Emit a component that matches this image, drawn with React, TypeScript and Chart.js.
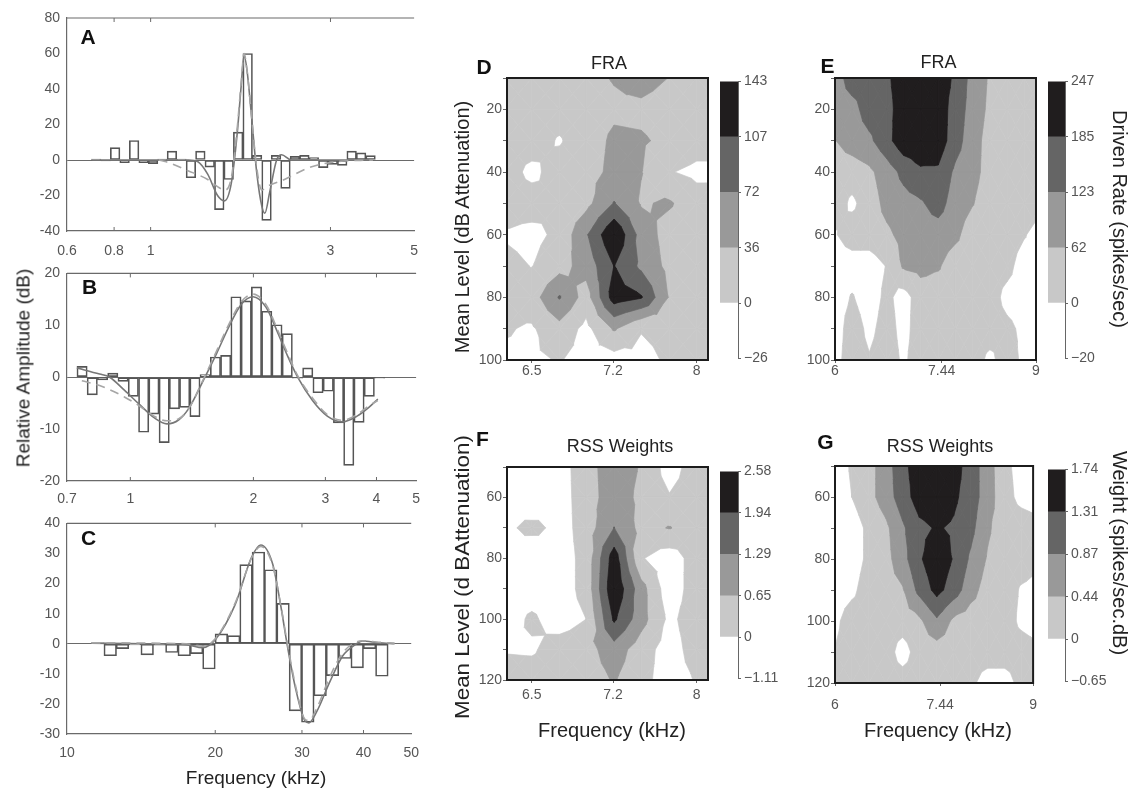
import React, { useEffect, useRef } from "react";
import { Chart, registerables } from "chart.js";

Chart.register(...registerables);

const FONT = '"Liberation Sans", Arial, Helvetica, sans-serif';
Chart.defaults.font.family = FONT;

// ---------------- Panel A ----------------
const A_BAR_FREQ = [0.717, 0.76, 0.805, 0.853, 0.904, 0.958, 1.015, 1.075, 1.139, 1.207, 1.279, 1.355, 1.435, 1.521, 1.611, 1.707, 1.809, 1.916, 2.03, 2.151, 2.279, 2.414, 2.558, 2.71, 2.871, 3.042, 3.223, 3.414, 3.617, 3.832];
const A_BAR_VALUE = [0.5, -0.5, 7, -1.5, 11, -1.5, -2, 0.5, 5, 0.5, -10, 5, -4, -28, -11, 15.7, 60, 2.6, -34, 2.6, -16, 2, 2.6, 1.4, -4.3, -2.5, -3, 5, 4, 2.5];
const A_SOLID_FREQ = [0.7, 0.99, 1.26, 1.335, 1.417, 1.505, 1.57, 1.637, 1.697, 1.739, 1.77, 1.803, 1.846, 1.914, 1.972, 2.009, 2.07, 2.159, 2.225, 2.362, 3.89];
const A_SOLID_VALUE = [0, 0, 0, -1, -8, -20, -23, -13, 15, 42, 59, 50, 28, -8, -26, -30, -18, 0, 3, 0, 0];
const A_DASH_FREQ = [1.05, 1.1, 1.256, 1.417, 1.505, 1.57, 1.637, 1.697, 1.739, 1.77, 1.803, 1.846, 1.914, 1.972, 2.033, 2.265, 2.617, 3.096, 3.89];
const A_DASH_VALUE = [0, -1, -6, -11, -15, -17, -10, 18, 44, 60, 50, 28, -5, -17, -15, -11, -4.5, -1, 0];
const A_X_TICKS = [0.6, 0.8, 1, 3, 5];

// ---------------- Panel B ----------------
const B_BAR_FREQ = [0.762, 0.807, 0.855, 0.906, 0.96, 1.017, 1.078, 1.142, 1.21, 1.282, 1.358, 1.439, 1.524, 1.615, 1.711, 1.813, 1.921, 2.035, 2.156, 2.284, 2.42, 2.564, 2.716, 2.878, 3.049, 3.23, 3.422, 3.626, 3.841, 4.07];
const B_BAR_VALUE = [2.1, -3.4, -0.5, 0.8, -0.8, -3.7, -10.6, -7.1, -12.6, -6.1, -5.8, -7.6, 0.5, 3.9, 4.2, 15.5, 14.7, 17.4, 12.7, 10.1, 8.4, -0.2, 1.8, -3.0, -2.7, -8.8, -17, -8.7, -3.7, -0.2];
const B_SOLID_FREQ = [0.74, 0.841, 0.89, 0.967, 1.051, 1.143, 1.229, 1.314, 1.39, 1.511, 1.624, 1.737, 1.867, 1.996, 2.146, 2.296, 2.427, 2.566, 2.79, 3.032, 3.298, 3.585, 3.832, 4.03];
const B_SOLID_VALUE = [1.8, 0.6, 0, -2.5, -5.2, -7.8, -9.0, -8.2, -6.0, -0.5, 4.5, 9.5, 14, 15.5, 13.5, 8.5, 4, 0, -4.5, -7.5, -8.6, -7.5, -5.8, -4.2];
const B_DASH_FREQ = [0.761, 0.841, 0.967, 1.051, 1.143, 1.229, 1.314, 1.39, 1.511, 1.624, 1.737, 1.867, 1.996, 2.146, 2.296, 2.427, 2.566, 2.79, 3.032, 3.298, 3.585, 3.832, 4.03];
const B_DASH_VALUE = [-0.7, -1.6, -3.8, -5.5, -7.5, -8.4, -8.0, -6.0, -0.3, 5, 10, 14.5, 16, 14, 9, 4.5, 0.3, -4, -7.2, -8.3, -7.2, -5.5, -4.5];
const B_X_TICKS = [0.7, 1, 2, 3, 4, 5];

// ---------------- Panel C ----------------
const C_BAR_FREQ = [11.55, 12.24, 12.96, 13.73, 14.55, 15.42, 16.33, 17.3, 18.33, 19.42, 20.58, 21.8, 23.1, 24.47, 25.92, 27.46, 29.1, 30.83, 32.66, 34.6, 36.66, 38.84, 41.15, 43.59];
const C_BAR_VALUE = [0.3, -4.0, -1.6, -0.4, -3.7, -0.5, -2.9, -4.0, -3.3, -8.4, 3.3, 2.7, 26.3, 30.5, 24.6, 13.4, -22.3, -26.1, -17.3, -10.6, -4.9, -8.0, -1.6, -10.8];
const C_SOLID_FREQ = [11.21, 14.55, 17.47, 18.86, 20.04, 21.95, 23.7, 24.74, 26.16, 27.19, 28.03, 29.12, 30.47, 31.0, 32.14, 34.17, 36.31, 38.58, 39.78, 42.95, 46.27];
const C_SOLID_VALUE = [0.2, 0, -0.3, -1.3, 1.5, 13, 28.7, 32.8, 26.5, 12.3, -0.8, -14.9, -25.8, -26.3, -22.6, -12.7, -4, -0.2, 0.9, 0.3, 0];
const C_DASH_FREQ = [11.21, 17.47, 18.86, 20.04, 21.95, 23.7, 24.74, 26.16, 27.19, 28.03, 29.12, 30.47, 31.0, 32.14, 34.17, 36.31, 38.58, 39.78, 42.95, 46.27];
const C_DASH_VALUE = [0.3, 0, -0.8, 1.8, 13.5, 28.5, 32.3, 26, 12.5, 0, -14, -25.2, -25.5, -21.5, -11, -3, 0.5, 1.0, 0.5, 0.2];
const C_X_TICKS = [10, 20, 30, 40, 50];

// ---------------- Contour panels ----------------
const BAND_COLORS = ["#ffffff", "#c8c8c8", "#999999", "#656565", "#201d1e"];
const COLORBAR_BANDS = [1, 1, 1, 1, 1];

// D: FRA
const D_FREQ = [6.28, 6.5, 6.73, 6.96, 7.21, 7.46, 7.73, 8.0, 8.28];
const D_LEVEL = [10, 20, 30, 40, 50, 60, 70, 80, 90, 100];
const D_Z = [
  [15, 15, 15, 28, 38, 50, 35, 15, 15],
  [15, 15, 15, 20, 30, 28, 20, 15, 15],
  [15, 15, -3, 20, 42, 40, 28, 15, 15],
  [15, -8, 15, 22, 45, 37, 2, -8, -8],
  [15, 15, 3, 25, 74, 33, 40, 15, 15],
  [-3, -10, 8, 68, 140, 57, 20, 15, 15],
  [10, -1, 23, 50, 108, 65, 25, 15, 15],
  [10, 19, 75, 19, 125, 110, 33, 15, 15],
  [3, -4, 23, -10, 40, 2, 10, 15, 15],
  [-6, -6, 2, -12, -15, -10, 5, 15, 15],
];
const D_THRESHOLDS = [0, 36, 72, 107];
const D_CB_LABELS = ["\u221226", "0", "36", "72", "107", "143"];
const D_X_TICKS = [6.5, 7.2, 8];

// E: FRA
const E_FREQ = [6, 6.21, 6.43, 6.66, 6.89, 7.13, 7.39, 7.65, 7.92, 8.2, 8.49, 8.79, 9.1];
const E_LEVEL = [10, 20, 30, 40, 50, 60, 70, 80, 90, 100];
const E_Z = [
  [92, 154, 154, 175, 216, 230, 216, 175, 100, 55, 31, 31, 31],
  [92, 100, 154, 165, 216, 216, 216, 160, 95, 50, 31, 31, 31],
  [60, 90, 110, 165, 225, 230, 220, 150, 85, 40, 31, 31, 31],
  [31, 31, 50, 92, 140, 175, 175, 110, 80, 40, 31, 31, 31],
  [31, -12, 31, 80, 100, 115, 150, 90, 65, 31, 31, 31, 31],
  [-5, 31, 31, 50, 80, 92, 92, 75, 31, 31, 31, 5, -31],
  [-31, -31, -31, 3, 70, 80, 68, 31, 31, 31, 20, -31, -31],
  [-31, 5, -31, 15, -25, 31, 31, 31, 31, 31, -20, -31, -31],
  [-31, 31, -15, 25, -20, 31, 31, 31, 31, 31, 15, -15, -31],
  [-20, 31, 5, 31, -10, 31, 31, 31, 31, -15, 31, -15, -31],
];
const E_THRESHOLDS = [0, 62, 123, 185];
const E_CB_LABELS = ["\u221220", "0", "62", "123", "185", "247"];
const E_X_TICKS = [6, 7.44, 9];

// F: RSS weights
const F_FREQ = [6.28, 6.5, 6.73, 6.96, 7.21, 7.46, 7.73, 8.0, 8.28];
const F_LEVEL = [50, 60, 70, 80, 90, 100, 110, 120];
const F_Z = [
  [-0.3, -0.3, -0.3, 0.4, 1.0, 0.6, -0.3, 0.35, 0.35],
  [-0.3, -0.9, -0.3, 0.35, 1.0, 0.5, 0.05, 0.35, 0.35],
  [-0.25, 0.3, -0.3, 0.3, 1.3, 0.45, 0.68, 0.35, 0.35],
  [-0.3, -0.9, -0.3, 0.2, 2.3, 0.05, -0.35, 0.3, 0.35],
  [-0.3, -0.3, -0.3, 0.2, 2.5, 0.9, -0.4, 0.35, 0.35],
  [-0.3, 0.1, -0.3, 0.0, 2.05, 0.9, -0.15, 0.35, 0.35],
  [-0.05, -0.08, 0.3, 0.4, 1.0, 0.3, -0.3, 0.3, 0.35],
  [0.3, 0.3, 0.3, 0.35, 0.7, 0.2, -0.3, 0.05, 0.35],
];
const F_THRESHOLDS = [0, 0.65, 1.29, 1.94];
const F_CB_LABELS = ["\u22121.11", "0", "0.65", "1.29", "1.94", "2.58"];

// G: RSS weights
const G_FREQ = [6, 6.21, 6.43, 6.66, 6.89, 7.13, 7.39, 7.65, 7.92, 8.2, 8.49, 8.79, 9.1];
const G_LEVEL = [50, 60, 70, 80, 90, 100, 110, 120];
const G_Z = [
  [-0.22, 0.05, 0.3, 0.65, 1.2, 1.52, 1.6, 1.52, 1.09, 0.65, 0.1, -0.15, -0.22],
  [-0.22, 0.0, 0.3, 0.65, 1.1, 1.52, 1.6, 1.4, 1.09, 0.65, 0.15, -0.12, -0.22],
  [-0.22, -0.22, 0.1, 0.35, 0.8, 1.2, 1.35, 1.25, 1.0, 0.5, 0.22, 0.22, 0.15],
  [-0.22, -0.22, 0.1, 0.3, 0.7, 1.25, 1.6, 1.28, 0.8, 0.4, 0.22, 0.22, 0.22],
  [-0.22, -0.1, 0.22, 0.3, 0.4, 1.0, 1.45, 1.1, 0.6, 0.25, 0.22, -0.05, -0.22],
  [-0.1, 0.22, 0.22, 0.22, 0.22, 0.35, 0.8, 0.35, 0.22, 0.22, 0.22, -0.1, -0.22],
  [0.02, 0.22, 0.22, 0.22, -0.2, 0.22, 0.22, 0.22, 0.22, 0.22, 0.22, 0.22, 0.1],
  [0.22, 0.22, 0.22, 0.22, 0.22, 0.22, 0.22, 0.22, 0.1, -0.2, -0.2, 0.15, 0.22],
];
const G_THRESHOLDS = [0, 0.44, 0.87, 1.31];
const G_CB_LABELS = ["\u22120.65", "0", "0.44", "0.87", "1.31", "1.74"];

// ---------------- helpers ----------------
const TICK_COLOR = "#555";
const FRAME_GREY = "#6a6a6a";

const leftFramePlugin = {
  id: "leftFrame",
  afterDraw(chart: any) {
    const { ctx, chartArea: a, scales } = chart;
    const x = scales.x;
    ctx.save();
    ctx.strokeStyle = FRAME_GREY;
    ctx.lineWidth = 1.2;
    ctx.beginPath();
    ctx.moveTo(a.left, a.top);
    ctx.lineTo(a.right, a.top);
    ctx.stroke();
    ctx.lineWidth = 1;
    for (const t of x.ticks) {
      const px = x.getPixelForValue(t.value);
      if (px <= a.left + 2 || px >= a.right - 2) continue;
      ctx.beginPath();
      ctx.moveTo(px, a.top);
      ctx.lineTo(px, a.top + 4);
      ctx.moveTo(px, a.bottom);
      ctx.lineTo(px, a.bottom - 4);
      ctx.stroke();
    }
    ctx.restore();
  },
};

function pts(f: number[], v: number[]) {
  return f.map((x, i) => ({ x, y: v[i] }));
}

function barPanelConfig(p: any) {
  return {
    type: "bar",
    data: {
      datasets: [
        {
          type: "line",
          data: pts(p.dashF, p.dashV),
          borderColor: "#a6a6a6",
          borderWidth: 1.6,
          borderDash: [9, 6],
          pointRadius: 0,
          cubicInterpolationMode: "monotone",
          order: 0,
        },
        {
          type: "line",
          data: pts(p.solidF, p.solidV),
          borderColor: "#777777",
          borderWidth: 1.6,
          pointRadius: 0,
          cubicInterpolationMode: "monotone",
          order: 0,
        },
        {
          type: "bar",
          data: pts(p.barF, p.barV),
          backgroundColor: "rgba(255,255,255,0)",
          borderColor: "#555",
          borderWidth: 1,
          borderSkipped: false,
          barThickness: p.barPx,
          order: 1,
        },
      ],
    },
    options: {
      responsive: false,
      animation: false,
      devicePixelRatio: 1,
      layout: { padding: { left: 0, top: p.padTop, right: p.padRight, bottom: 0 } },
      plugins: { legend: { display: false }, tooltip: { enabled: false } },
      scales: {
        x: {
          type: "logarithmic",
          min: p.xmin,
          max: p.xmax,
          offset: false,
          afterBuildTicks: (s: any) => {
            s.ticks = p.xticks.map((v: number) => ({ value: v }));
          },
          afterFit: (s: any) => {
            s.height = p.xh;
          },
          ticks: {
            callback: (v: any) => String(v),
            autoSkip: false,
            maxRotation: 0,
            padding: p.xpad,
            color: TICK_COLOR,
            font: { size: 14 },
          },
          grid: { display: false, drawTicks: false, offset: false },
          border: { display: true, color: FRAME_GREY, width: 1.2 },
        },
        y: {
          type: "linear",
          min: p.ymin,
          max: p.ymax,
          ticks: { stepSize: p.ystep, color: TICK_COLOR, font: { size: 14 }, padding: 7 },
          afterFit: (s: any) => {
            s.width = 67;
          },
          grid: {
            drawTicks: false,
            color: (c: any) => (c.tick && c.tick.value === 0 ? "#6a6a6a" : "rgba(0,0,0,0)"),
            lineWidth: 1,
          },
          border: { display: true, color: FRAME_GREY, width: 1.2 },
        },
      },
    },
    plugins: [leftFramePlugin],
  };
}

function clipAbove(poly: number[][], lo: number) {
  const out: number[][] = [];
  for (let i = 0; i < poly.length; i++) {
    const a = poly[i];
    const b = poly[(i + 1) % poly.length];
    const fa = a[2] - lo;
    const fb = b[2] - lo;
    if (fa >= 0) out.push(a);
    if (fa >= 0 !== fb >= 0) {
      const t = fa / (fa - fb);
      out.push([a[0] + (b[0] - a[0]) * t, a[1] + (b[1] - a[1]) * t, lo]);
    }
  }
  return out;
}

function makeContourPlugin(freqs: number[], levels: number[], z: number[][], thresholds: number[]) {
  return {
    id: "contourFill",
    beforeDatasetsDraw(chart: any) {
      const { ctx, chartArea: a, scales } = chart;
      const xs = freqs.map((f) => scales.x.getPixelForValue(f));
      const ys = levels.map((l) => scales.y.getPixelForValue(l));
      ctx.save();
      ctx.beginPath();
      ctx.rect(a.left, a.top, a.right - a.left, a.bottom - a.top);
      ctx.clip();
      ctx.fillStyle = BAND_COLORS[0];
      ctx.fillRect(a.left, a.top, a.right - a.left, a.bottom - a.top);
      ctx.lineJoin = "round";
      for (let k = 0; k < thresholds.length; k++) {
        const lo = thresholds[k];
        ctx.fillStyle = BAND_COLORS[k + 1];
        ctx.strokeStyle = BAND_COLORS[k + 1];
        ctx.lineWidth = 0.7;
        for (let i = 0; i < levels.length - 1; i++) {
          for (let j = 0; j < freqs.length - 1; j++) {
            const p00 = [xs[j], ys[i], z[i][j]];
            const p01 = [xs[j + 1], ys[i], z[i][j + 1]];
            const p11 = [xs[j + 1], ys[i + 1], z[i + 1][j + 1]];
            const p10 = [xs[j], ys[i + 1], z[i + 1][j]];
            const c = [(xs[j] + xs[j + 1]) / 2, (ys[i] + ys[i + 1]) / 2, (p00[2] + p01[2] + p11[2] + p10[2]) / 4];
            const tris = [
              [p00, p01, c],
              [p01, p11, c],
              [p11, p10, c],
              [p10, p00, c],
            ];
            for (const tri of tris) {
              const poly = clipAbove(tri, lo);
              if (poly.length < 3) continue;
              ctx.beginPath();
              ctx.moveTo(poly[0][0], poly[0][1]);
              for (let q = 1; q < poly.length; q++) ctx.lineTo(poly[q][0], poly[q][1]);
              ctx.closePath();
              ctx.fill();
              ctx.stroke();
            }
          }
        }
      }
      ctx.restore();
    },
    afterDraw(chart: any) {
      const { ctx, chartArea: a } = chart;
      ctx.save();
      ctx.strokeStyle = "#1c1c1c";
      ctx.lineWidth = 2;
      ctx.strokeRect(a.left, a.top, a.right - a.left, a.bottom - a.top);
      ctx.restore();
    },
  };
}

function contourConfig(p: any) {
  return {
    type: "scatter",
    data: { datasets: [{ data: [], pointRadius: 0 }] },
    options: {
      responsive: false,
      animation: false,
      devicePixelRatio: 1,
      layout: { padding: { left: 0, top: p.padTop, right: p.padRight, bottom: 0 } },
      plugins: { legend: { display: false }, tooltip: { enabled: false } },
      scales: {
        x: {
          type: "logarithmic",
          min: p.xmin,
          max: p.xmax,
          afterBuildTicks: (s: any) => {
            s.ticks = p.xticks.map((v: number) => ({ value: v }));
          },
          afterFit: (s: any) => {
            s.height = p.xh;
          },
          ticks: {
            callback: (v: any) => String(v),
            autoSkip: false,
            maxRotation: 0,
            padding: p.xpad,
            color: TICK_COLOR,
            font: { size: 14 },
          },
          grid: { display: true, drawOnChartArea: false, drawTicks: true, tickLength: 3, color: "#666" },
          border: { display: false },
        },
        y: {
          type: "linear",
          reverse: true,
          min: p.ymin,
          max: p.ymax,
          ticks: {
            stepSize: 10,
            callback: (v: any) => (v % 20 === 0 ? String(v) : ""),
            padding: 1,
            color: TICK_COLOR,
            font: { size: 14 },
          },
          afterFit: (s: any) => {
            s.width = 67;
          },
          grid: { display: true, drawOnChartArea: false, drawTicks: true, tickLength: 4, color: "#666" },
          border: { display: false },
        },
      },
    },
    plugins: [makeContourPlugin(p.freqs, p.levels, p.z, p.thresholds)],
  };
}

function colorbarConfig(p: any) {
  return {
    type: "bar",
    data: {
      labels: [""],
      datasets: COLORBAR_BANDS.map((v, i) => ({
        data: [v],
        backgroundColor: BAND_COLORS[i],
        borderWidth: 0,
        barPercentage: 1,
        categoryPercentage: 1,
        stack: "cb",
      })),
    },
    options: {
      responsive: false,
      animation: false,
      devicePixelRatio: 1,
      layout: { padding: { left: p.padLeft, top: p.padTop, right: 0, bottom: p.padBottom } },
      plugins: { legend: { display: false }, tooltip: { enabled: false } },
      scales: {
        x: { display: false, stacked: true },
        y: {
          position: "right",
          stacked: true,
          min: 0,
          max: 5,
          afterBuildTicks: (s: any) => {
            s.ticks = [0, 1, 2, 3, 4, 5].map((v) => ({ value: v }));
          },
          afterFit: (s: any) => {
            s.width = p.yw;
          },
          ticks: {
            callback: (v: any) => p.labels[v],
            color: TICK_COLOR,
            font: { size: 14 },
            padding: 3,
            autoSkip: false,
          },
          grid: { drawOnChartArea: false, drawTicks: true, tickLength: 3, color: "#666" },
          border: { display: true, color: "#666", width: 1 },
        },
      },
    },
  };
}

function ChartCanvas({ left, top, width, height, make }: any) {
  const ref = useRef<HTMLCanvasElement>(null);
  useEffect(() => {
    const chart = new Chart(ref.current as HTMLCanvasElement, make());
    return () => chart.destroy();
  }, []);
  return (
    <div style={{ position: "absolute", left, top, width, height }}>
      <canvas ref={ref} width={width} height={height} style={{ width, height, display: "block" }} />
    </div>
  );
}

function Label({ x, y, text, size, rot = 0, bold = false, color = "#222", sx = 1 }: any) {
  return (
    <div
      style={{
        position: "absolute",
        left: x,
        top: y,
        transform: `translate(-50%, -50%) rotate(${rot}deg) scaleX(${sx})`,
        fontSize: size,
        fontWeight: bold ? 700 : 400,
        color,
        whiteSpace: "nowrap",
        lineHeight: 1,
        fontFamily: FONT,
      }}
    >
      {text}
    </div>
  );
}

const PANEL_A = {
  barF: A_BAR_FREQ, barV: A_BAR_VALUE, solidF: A_SOLID_FREQ, solidV: A_SOLID_VALUE, dashF: A_DASH_FREQ, dashV: A_DASH_VALUE,
  xticks: A_X_TICKS, xmin: 0.6, xmax: 5, ymin: -40, ymax: 80, ystep: 20, padTop: 18, padRight: 11, xh: 31, xpad: 12, barPx: 9.6,
};
const PANEL_B = {
  barF: B_BAR_FREQ, barV: B_BAR_VALUE, solidF: B_SOLID_FREQ, solidV: B_SOLID_VALUE, dashF: B_DASH_FREQ, dashV: B_DASH_VALUE,
  xticks: B_X_TICKS, xmin: 0.7, xmax: 5, ymin: -20, ymax: 20, ystep: 10, padTop: 10, padRight: 11, xh: 25, xpad: 10, barPx: 10.3,
};
const PANEL_C = {
  barF: C_BAR_FREQ, barV: C_BAR_VALUE, solidF: C_SOLID_FREQ, solidV: C_SOLID_VALUE, dashF: C_DASH_FREQ, dashV: C_DASH_VALUE,
  xticks: C_X_TICKS, xmin: 10, xmax: 50, ymin: -30, ymax: 40, ystep: 10, padTop: 12, padRight: 11, xh: 54, xpad: 11, barPx: 12.6,
};

const PANEL_D = { freqs: D_FREQ, levels: D_LEVEL, z: D_Z, thresholds: D_THRESHOLDS, xticks: D_X_TICKS, xmin: 6.338, xmax: 8.115, ymin: 10, ymax: 100, padTop: 38, padRight: 12, xh: 30, xpad: 0 };
const PANEL_E = { freqs: E_FREQ, levels: E_LEVEL, z: E_Z, thresholds: E_THRESHOLDS, xticks: E_X_TICKS, xmin: 6, xmax: 9, ymin: 10, ymax: 100, padTop: 38, padRight: 12, xh: 30, xpad: 0 };
const PANEL_F = { freqs: F_FREQ, levels: F_LEVEL, z: F_Z, thresholds: F_THRESHOLDS, xticks: D_X_TICKS, xmin: 6.338, xmax: 8.115, ymin: 50, ymax: 120, padTop: 37, padRight: 12, xh: 40, xpad: 4 };
const PANEL_G = { freqs: G_FREQ, levels: G_LEVEL, z: G_Z, thresholds: G_THRESHOLDS, xticks: E_X_TICKS, xmin: 6, xmax: 9, ymin: 50, ymax: 120, padTop: 36, padRight: 12, xh: 37, xpad: 11 };

export default function App() {
  return (
    <div style={{ position: "absolute", left: 0, top: 0, width: 1142, height: 788, background: "#fff", overflow: "hidden", fontFamily: FONT }}>
      <ChartCanvas left={0} top={0} width={430} height={262} make={() => barPanelConfig(PANEL_A)} />
      <ChartCanvas left={0} top={258} width={430} height={248} make={() => barPanelConfig(PANEL_B)} />
      <ChartCanvas left={0} top={508} width={430} height={280} make={() => barPanelConfig(PANEL_C)} />

      <ChartCanvas left={440} top={40} width={280} height={350} make={() => contourConfig(PANEL_D)} />
      <ChartCanvas left={768} top={40} width={280} height={350} make={() => contourConfig(PANEL_E)} />
      <ChartCanvas left={440} top={430} width={280} height={290} make={() => contourConfig(PANEL_F)} />
      <ChartCanvas left={768} top={430} width={280} height={290} make={() => contourConfig(PANEL_G)} />

      <ChartCanvas left={712} top={70} width={75} height={300} make={() => colorbarConfig({ labels: D_CB_LABELS, padLeft: 8, padTop: 8, padBottom: 10, yw: 49 })} />
      <ChartCanvas left={1040} top={70} width={80} height={300} make={() => colorbarConfig({ labels: E_CB_LABELS, padLeft: 8, padTop: 8, padBottom: 10, yw: 55 })} />
      <ChartCanvas left={712} top={460} width={75} height={230} make={() => colorbarConfig({ labels: F_CB_LABELS, padLeft: 8, padTop: 8, padBottom: 10, yw: 49 })} />
      <ChartCanvas left={1040} top={458} width={80} height={235} make={() => colorbarConfig({ labels: G_CB_LABELS, padLeft: 8, padTop: 8, padBottom: 9, yw: 55 })} />

      <Label x={88} y={35.5} text="A" size={21} bold color="#111" />
      <Label x={89.5} y={285.5} text="B" size={21} bold color="#111" />
      <Label x={88.5} y={536.5} text="C" size={21} bold color="#111" />
      <Label x={484} y={66} text="D" size={21} bold color="#111" />
      <Label x={827.5} y={65} text="E" size={21} bold color="#111" />
      <Label x={482.5} y={437.5} text="F" size={21} bold color="#111" />
      <Label x={825.5} y={440.5} text="G" size={21} bold color="#111" />

      <Label x={609} y={63} text="FRA" size={18} />
      <Label x={938.5} y={61.5} text="FRA" size={18} />
      <Label x={620} y={446} text="RSS Weights" size={18} />
      <Label x={940} y={446} text="RSS Weights" size={18} />

      <Label x={22.5} y={368} text="Relative Amplitude (dB)" size={19} rot={-90} />
      <Label x={256} y={777} text="Frequency (kHz)" size={19} />
      <Label x={462} y={227} text="Mean Level (dB Attenuation)" size={20} rot={-90} />
      <Label x={462} y={577} text="Mean Level (d BAttenuation)" size={20} rot={-90} sx={1.12} />
      <Label x={612} y={730} text="Frequency (kHz)" size={20} />
      <Label x={938} y={730} text="Frequency (kHz)" size={20} />
      <Label x={1120} y={219} text="Driven Rate (spikes/sec)" size={20} rot={90} />
      <Label x={1120} y={553} text="Weight (spikes/sec.dB)" size={20} rot={90} />
    </div>
  );
}
